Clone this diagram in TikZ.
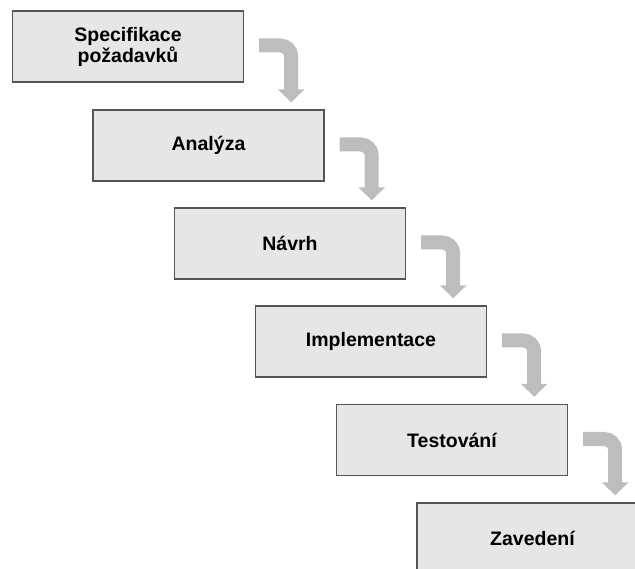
\documentclass[tikz,border=0pt]{standalone}
\usepackage{fontspec}
\setmainfont{Liberation Sans}
\usetikzlibrary{arrows.meta}
\definecolor{boxfill}{HTML}{E6E6E6}
\definecolor{boxline}{HTML}{555555}
\definecolor{flowgray}{HTML}{BDBDBD}
\begin{document}
\begin{tikzpicture}[x=1pt,y=-1pt,
  stage/.style={draw=boxline, line width=1.4pt, fill=boxfill,
    minimum width=231pt, minimum height=71pt, inner sep=0pt,
    align=center, font=\fontsize{19.5}{21}\selectfont\bfseries, text=black},
  flow/.style={draw=flowgray, line width=14pt, rounded corners=11pt,
    -{Triangle[width=26pt,length=13pt]}}]
\useasboundingbox (0,0) rectangle (635,569);
\clip (0,0) rectangle (635,569);
\node[stage] (b1) at (128,46.5) {Specifikace\\požadavků};
\node[stage] (b2) at (208.5,145.5) {Analýza};
\node[stage] (b3) at (290,243.5) {Návrh};
\node[stage] (b4) at (371,341.5) {Implementace};
\node[stage] (b5) at (452,440) {Testování};
\node[stage] (b6) at (532.5,538.5) {Zavedení};
\foreach \a/\b in {b1/b2,b2/b3,b3/b4,b4/b5,b5/b6} {
  \coordinate (s\a) at ([xshift=15pt,yshift=1pt]\a.east);
  \path (\a.east) ++(47pt,0pt) coordinate (c\a);
  \path (\b.north) ++(0pt,7pt) coordinate (t\a);
  \draw[flow] (s\a) -| (c\a |- t\a);
}
\end{tikzpicture}
\end{document}
